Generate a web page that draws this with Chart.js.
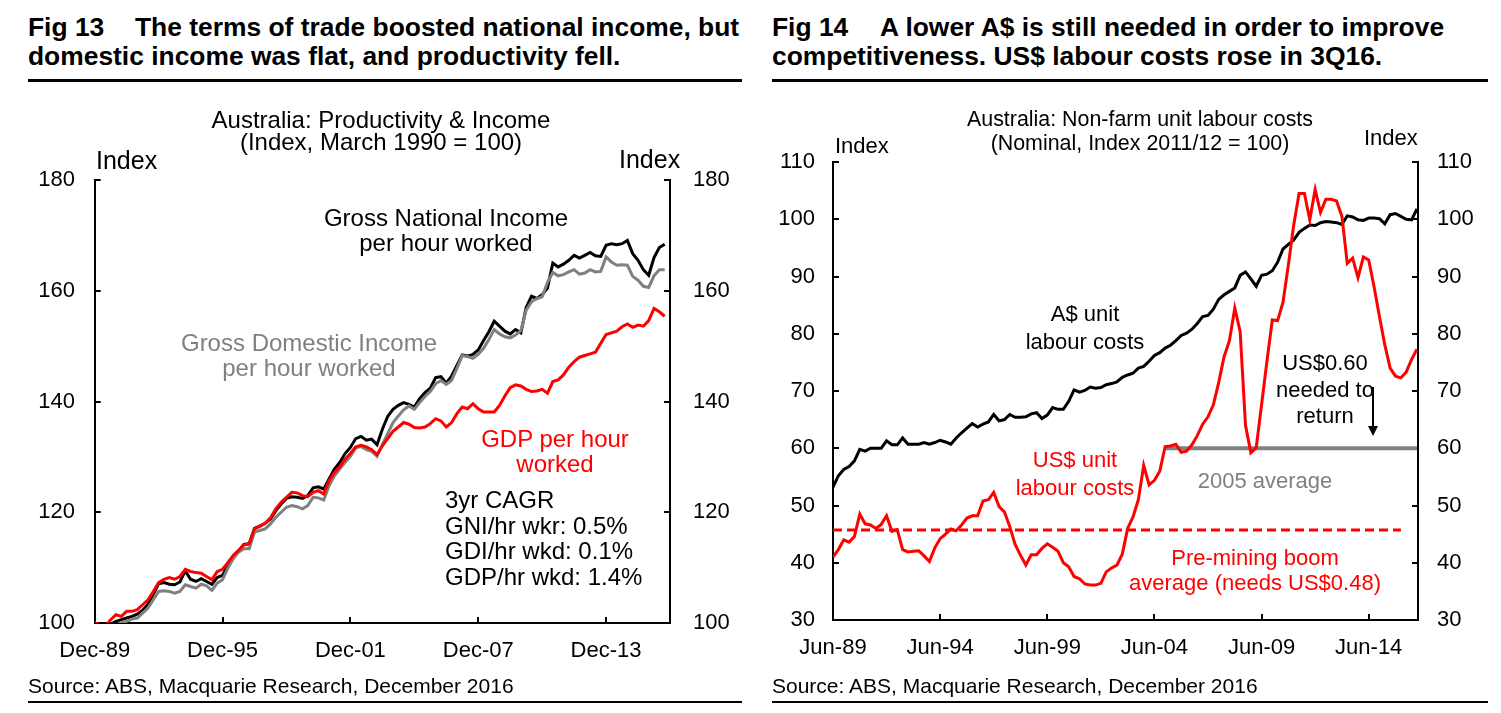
<!DOCTYPE html>
<html>
<head>
<meta charset="utf-8">
<script src="https://cdn.jsdelivr.net/npm/chart.js@4.4.1/dist/chart.umd.min.js"></script>
<style>
  body { margin: 0; width: 1501px; height: 713px; background: #fff; position: relative; overflow: hidden;
         font-family: "Liberation Sans", Arial, sans-serif; color: #000; }
  .abs { position: absolute; white-space: pre; }
  .title { font-weight: bold; font-size: 26.4px; line-height: 29px; }
  .fig { display: inline-block; width: 107px; }
  .rule { position: absolute; background: #000; }
  .txt { font-size: 22px; line-height: 25px; }
  .big { font-size: 24px; }
  .c { transform: translateX(-50%); text-align: center; }
  .red { color: #ff0000; }
  .grey { color: #808080; }
  canvas { position: absolute; }
</style>
</head>
<body>

<div class="abs title" style="left:28px;top:13px;"><span class="fig">Fig 13</span>The terms of trade boosted national income, but
domestic income was flat, and productivity fell.</div>
<div class="abs title" style="left:772px;top:13px;"><span class="fig" style="width:108px;">Fig 14</span>A lower A$ is still needed in order to improve
competitiveness. US$ labour costs rose in 3Q16.</div>
<div class="rule" style="left:28px;top:79px;width:714px;height:3px;"></div>
<div class="rule" style="left:772px;top:79px;width:716px;height:3px;"></div>

<canvas id="left" width="750" height="590" style="left:0;top:90px;"></canvas>
<canvas id="right" width="751" height="590" style="left:750px;top:90px;"></canvas>

<!-- Fig 13 texts -->
<div class="abs txt c big" style="left:381px;top:109px;line-height:22px;">Australia: Productivity &amp; Income
(Index, March 1990 = 100)</div>
<div class="abs txt" style="left:96px;top:148px;font-size:25px;">Index</div>
<div class="abs txt" style="left:619px;top:147px;font-size:25px;">Index</div>
<div class="abs txt c big" style="left:446px;top:205px;">Gross National Income
per hour worked</div>
<div class="abs txt c grey big" style="left:309px;top:330px;">Gross Domestic Income
per hour worked</div>
<div class="abs txt c red big" style="left:555px;top:426px;">GDP per hour
worked</div>
<div class="abs txt big" style="left:445px;top:487px;line-height:25.5px;">3yr CAGR
GNI/hr wkr: 0.5%
GDI/hr wkd: 0.1%
GDP/hr wkd: 1.4%</div>
<div class="abs" style="left:28px;top:674px;font-size:21px;">Source: ABS, Macquarie Research, December 2016</div>

<!-- Fig 14 texts -->
<div class="abs txt c" style="left:1140px;top:107px;font-size:21.4px;line-height:24px;">Australia: Non-farm unit labour costs
(Nominal, Index 2011/12 = 100)</div>
<div class="abs txt" style="left:835px;top:133px;">Index</div>
<div class="abs txt" style="left:1364px;top:125px;">Index</div>
<div class="abs txt c" style="left:1085px;top:300px;line-height:28px;">A$ unit
labour costs</div>
<div class="abs txt c red" style="left:1075px;top:446px;line-height:28px;">US$ unit
labour costs</div>
<div class="abs txt c grey" style="left:1265px;top:468px;">2005 average</div>
<div class="abs txt c" style="left:1325px;top:350px;line-height:26.5px;">US$0.60
needed to
return</div>
<div class="abs" style="left:1372px;top:387px;width:1.5px;height:42px;background:#000;"></div>
<div class="abs" style="left:1368px;top:426px;width:0;height:0;border-left:5px solid transparent;border-right:5px solid transparent;border-top:10px solid #000;"></div>
<div class="abs txt c red" style="left:1255px;top:545px;">Pre-mining boom
average (needs US$0.48)</div>
<div class="abs" style="left:772px;top:674px;font-size:21px;">Source: ABS, Macquarie Research, December 2016</div>

<div class="rule" style="left:28px;top:701px;width:714px;height:2px;"></div>
<div class="rule" style="left:772px;top:701px;width:716px;height:2px;"></div>

<script>
// Fig 13: quarterly, Dec-89 .. Sep-16 (index, Mar 1990 = 100)
const leftTickLabels = ['Dec-89', 'Dec-95', 'Dec-01', 'Dec-07', 'Dec-13'];
const gni = [100, 99.6, 99.3, 99.8, 100.3, 100.6, 100.9, 101.2, 101.6, 102.3,
  103.4, 105.2, 107.1, 107.3, 107, 106.9, 107.4, 109.4, 107.9, 107.5,
  108, 107.5, 107, 108.2, 108.6, 110.5, 112, 113, 114.2, 114.3,
  117.1, 117.5, 118, 118.8, 120.3, 121.5, 122.5, 122.8, 122.7, 122.5,
  123, 124.4, 124.6, 124.2, 126, 127.8, 129, 130.6, 131.7, 133.3,
  133.7, 133, 133.2, 132.2, 135, 137.3, 138.6, 139.3, 139.8, 139.5,
  139, 140.5, 141.6, 142.4, 144.3, 144.5, 143.3, 144.6, 146.5, 148.4,
  148.2, 148.5, 149.3, 151, 152.6, 154.5, 153.6, 152.7, 152.2, 153,
  152.4, 157, 159, 158.6, 159.3, 160.5, 165, 164.3, 164.8, 165.5,
  166.4, 165.9, 166.4, 166.9, 166.3, 166.2, 168.2, 168.5, 168.3, 168.5,
  169.1, 166.7, 165.5, 163.8, 162.8, 166, 167.8, 168.4];
const gdi = [100, 99.6, 99.3, 99.1, 99.7, 100, 100.3, 100.7, 100.9, 101.8,
  102.7, 104.2, 105.7, 105.8, 105.7, 105.4, 105.7, 106.9, 106.6, 106.3,
  107, 106.7, 105.9, 107.2, 107.8, 109.9, 111.6, 112.8, 113.4, 113.4,
  116.4, 116.7, 117, 117.9, 119.1, 120, 120.9, 121.2, 121, 120.6,
  121.2, 122.7, 122.6, 122.2, 124.8, 126.6, 127.8, 129, 130.1, 131.6,
  131.9, 131.3, 131, 130.1, 132.2, 134.2, 136.2, 137.4, 138.5, 139.2,
  138.6, 139.8, 140.9, 141.8, 143.2, 143.8, 143.1, 143.8, 146, 148.3,
  148.1, 147.8, 148.5, 149.6, 151.2, 153, 152.2, 151.7, 151.5, 152,
  152.8, 156.5, 158, 158.6, 158.9, 161.5, 163.3, 162.7, 162.9, 163.4,
  163.8, 163, 163.2, 163.8, 163.4, 163.5, 166.1, 165.2, 164.6, 164.7,
  164.6, 162.6, 161.9, 160.8, 160.6, 162.7, 163.8, 163.8];
const gdp = [100, 99.7, 99.4, 100.6, 101.5, 101.2, 102.1, 102.1, 102.4, 103.3,
  104.2, 105.7, 107.3, 107.9, 108.2, 107.9, 108.4, 109.7, 109.3, 109.1,
  109, 108.4, 107.8, 109.3, 109.7, 110.9, 112.2, 113.1, 114.1, 114.3,
  117, 117.5, 118, 119, 120.6, 121.8, 122.7, 123.6, 123.5, 123,
  122.8, 123.6, 123.9, 123.3, 125.7, 127.2, 128.2, 129.6, 130.6, 131.8,
  132.1, 131.8, 131.3, 130.4, 132, 133.3, 134.6, 135.4, 136.2, 135.9,
  135.3, 135.2, 135.4, 136, 136.9, 136.5, 135.4, 136.2, 137.8, 139,
  138.7, 139.6, 138.7, 138.1, 138.1, 138.1, 139.3, 141, 142.5, 143,
  142.8, 142.2, 141.8, 141.9, 142.2, 141.5, 143.6, 143.9, 144.8, 146.2,
  147.2, 148, 148.3, 148.6, 148.9, 150.5, 152.1, 152.4, 152.7, 153.5,
  154, 153.4, 153.8, 153.6, 154.6, 156.8, 156.2, 155.4];

// Fig 14: quarterly, Jun-89 .. Sep-16 (nominal, index 2011/12 = 100)
const rightTickLabels = ['Jun-89', 'Jun-94', 'Jun-99', 'Jun-04', 'Jun-09', 'Jun-14'];
const audUlc = [53.2, 55.2, 56.3, 56.8, 57.8, 59.8, 59.5, 60, 60, 60,
  61.3, 60.6, 60.6, 61.8, 60.7, 60.7, 60.7, 61, 60.7, 61,
  61.4, 61.1, 60.7, 61.8, 62.7, 63.5, 64.3, 63.7, 64.2, 64.6,
  65.9, 64.8, 65, 65.9, 65.4, 65.4, 65.5, 66, 66.2, 65.2,
  65.8, 67.1, 66.8, 66.8, 68.2, 70.2, 69.8, 70.1, 70.7, 70.5,
  70.6, 71.1, 71.3, 71.6, 72.4, 72.8, 73.1, 74, 74.3, 75.2,
  76.2, 76.7, 77.5, 78, 78.8, 79.7, 80.1, 80.8, 81.8, 83,
  83.2, 84.3, 86, 86.8, 87.4, 88, 90.2, 90.8, 89.6, 88.3,
  90.2, 90.4, 91, 92.5, 94.8, 95.6, 96.4, 97.7, 98.4, 99,
  98.9, 99.4, 99.6, 99.5, 99.4, 99.1, 100.6, 100.4, 99.9, 99.8,
  100.2, 100.2, 100.1, 99.2, 100.8, 101, 100.5, 100, 99.9, 101.8];
const usdUlc = [41, 42.3, 44, 43.6, 44.6, 48.5, 46.8, 46.6, 46, 46.7,
  48.2, 45.5, 45.8, 42.3, 41.9, 42, 42.1, 41.2, 40.2, 42.6,
  44.2, 45, 45.9, 45.6, 46.6, 47.8, 48.2, 48.2, 50.8, 51,
  52.3, 49.8, 48.9, 46.3, 43.2, 41.3, 39.6, 41.4, 41.4, 42.5,
  43.3, 42.7, 42, 40, 39.3, 37.6, 37.2, 36.3, 36.1, 36.1,
  36.4, 38.4, 39.1, 39.6, 41.5, 46, 48, 51, 57, 53.6,
  54.4, 56, 60.3, 60.4, 60.7, 59.3, 59.5, 60.6, 62.2, 64.2,
  65.5, 67.6, 71.5, 76, 78.8, 84.5, 80.4, 64, 59.2, 60.1,
  67.6, 75.2, 82.4, 82.3, 85.5, 92, 99, 104.5, 104.5, 99.9,
  105.2, 101.2, 103.5, 103.5, 103.2, 100.5, 92.3, 93.2, 89.8, 93.4,
  92.9, 88.2, 83, 78.1, 74, 72.6, 72.3, 73.3, 75.5, 77.3];
const avg2005 = 60;          // 2005 average, shown from Dec-04 onward
const avg2005From = 62;
const preMiningAvg = 45.7;   // pre-mining boom average
const preMiningTo = 106;

const toPoints = arr => arr.map((v, i) => ({ x: i, y: v }));
const flatLine = (value, from, to) => [{ x: from, y: value }, { x: to, y: value }];

const font = { family: '"Liberation Sans", Arial, sans-serif', size: 22 };

function yAxis(position, min, max, step, width, pad) {
  return {
    type: 'linear', position, min, max,
    afterFit: s => { s.width = width; },
    ticks: { stepSize: step, color: '#000', font, padding: pad },
    grid: { drawOnChartArea: false, tickLength: -6, color: '#000', lineWidth: 2 },
    border: { color: '#000', width: 2 }
  };
}
function xAxis(max, step, labels, height, pad) {
  return {
    type: 'linear', min: 0, max,
    afterFit: s => { s.height = height; },
    ticks: { stepSize: step, includeBounds: false, autoSkip: false, maxRotation: 0,
             color: '#000', font, padding: pad,
             callback: v => labels[v / step] },
    grid: { drawOnChartArea: false, tickLength: -6, color: '#000', lineWidth: 2 },
    border: { color: '#000', width: 2 }
  };
}
function line(data, color, order, extra) {
  return Object.assign({ data, borderColor: color, borderWidth: 3, pointRadius: 0,
    tension: 0, fill: false, order, yAxisID: 'y' }, extra || {});
}
const common = {
  responsive: false, animation: false, devicePixelRatio: 1,
  plugins: { legend: { display: false }, tooltip: { enabled: false } }
};

new Chart(document.getElementById('left'), {
  type: 'line',
  data: { datasets: [
    line(toPoints(gdp), '#ff0000', 0),
    line(toPoints(gdi), '#808080', 1),
    line(toPoints(gni), '#000000', 2)
  ] },
  options: Object.assign({}, common, {
    layout: { padding: { top: 90, left: 0, right: 0, bottom: 0 } },
    scales: {
      x: xAxis(108, 24, leftTickLabels, 57, 20.8),
      y: yAxis('left', 100, 180, 20, 94.7, 25.7),
      y2: yAxis('right', 100, 180, 20, 80, 29)
    }
  })
});

new Chart(document.getElementById('right'), {
  type: 'line',
  data: { datasets: [
    line(flatLine(preMiningAvg, 0, preMiningTo), '#ff0000', 0, { borderDash: [9, 5] }),
    line(toPoints(usdUlc), '#ff0000', 1),
    line(flatLine(avg2005, avg2005From, audUlc.length - 1), '#808080', 2, { borderWidth: 4 }),
    line(toPoints(audUlc), '#000000', 3)
  ] },
  options: Object.assign({}, common, {
    layout: { padding: { top: 72, left: 0, right: 0, bottom: 0 } },
    scales: {
      x: xAxis(109.2, 20, rightTickLabels, 60, 20.8),
      y: yAxis('left', 30, 110, 10, 83, 24),
      y2: yAxis('right', 30, 110, 10, 83, 25)
    }
  })
});
</script>
</body>
</html>
